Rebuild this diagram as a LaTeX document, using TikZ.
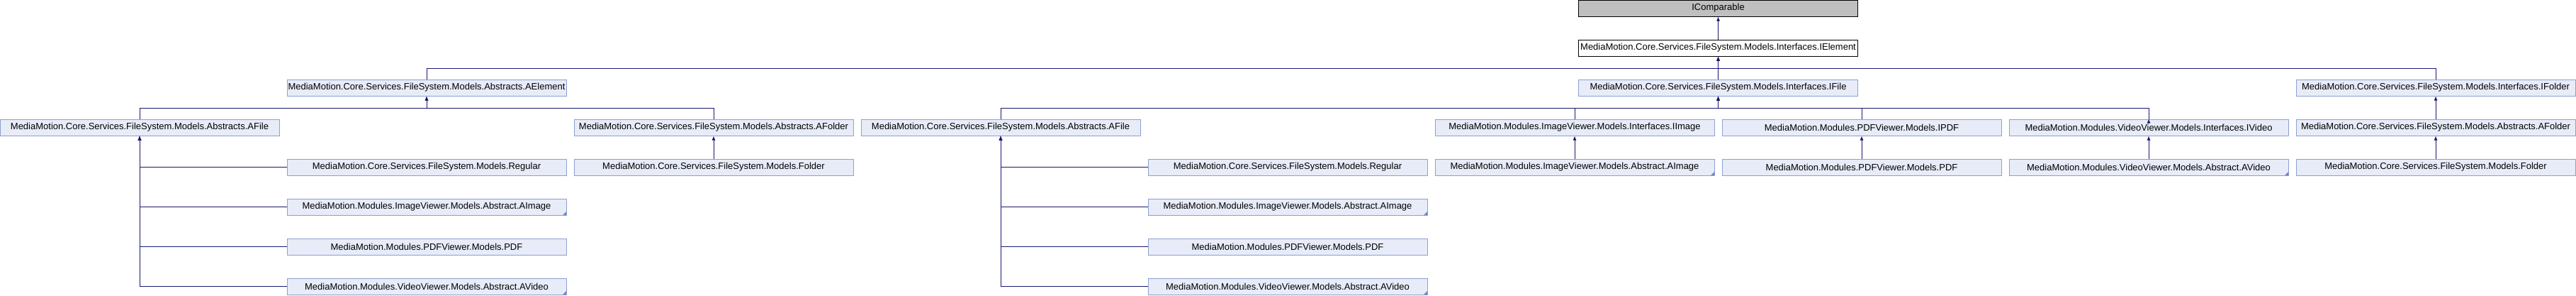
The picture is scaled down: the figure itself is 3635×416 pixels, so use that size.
\documentclass[tikz,border=0pt]{standalone}
\usepackage{fontspec}
\setmainfont{Liberation Sans}
\usetikzlibrary{arrows.meta}
\definecolor{edgeblue}{RGB}{25,25,112}
\definecolor{clsfill}{RGB}{232,236,248}
\definecolor{clsline}{RGB}{140,160,208}
\definecolor{morefill}{RGB}{110,134,196}
\begin{document}
\begin{tikzpicture}[x=1pt,y=-1pt,line width=1pt,
  cls/.style={draw=clsline,fill=clsfill,minimum width=394pt,minimum height=23pt,inner sep=0pt,
    font=\fontsize{13}{15}\selectfont},
  ext/.style={cls,draw=black,fill=black!25},
  cur/.style={cls,draw=black,fill=white},
  more/.style={path picture={\fill[morefill] (path picture bounding box.south east) -- ++(-5,0) -- ++(5,-5) -- cycle;}},
  inh/.style={draw=edgeblue,-{Latex[length=6pt,width=5pt]}}]
  \useasboundingbox (0,0) rectangle (3635,416);

  % top of the tree
  \node[ext] (IC) at (2424.5,11.5) {IComparable};
  \node[cur] (IE) at (2424.5,67.5) {MediaMotion.Core.Services.FileSystem.Models.Interfaces.IElement};

  \node[cls] (AE)  at (602,123.5)    {MediaMotion.Core.Services.FileSystem.Models.Abstracts.AElement};
  \node[cls] (IF)  at (2424.5,123.5) {MediaMotion.Core.Services.FileSystem.Models.Interfaces.IFile};
  \node[cls] (IFo) at (3437,123.5)   {MediaMotion.Core.Services.FileSystem.Models.Interfaces.IFolder};

  \node[cls] (AF1)  at (197,179.5)  {MediaMotion.Core.Services.FileSystem.Models.Abstracts.AFile};
  \node[cls] (AFo1) at (1007,179.5) {MediaMotion.Core.Services.FileSystem.Models.Abstracts.AFolder};
  \node[cls] (AF2)  at (1412,179.5) {MediaMotion.Core.Services.FileSystem.Models.Abstracts.AFile};
  \node[cls] (II)   at (2222,179.5) {MediaMotion.Modules.ImageViewer.Models.Interfaces.IImage};
  \node[cls] (IP)   at (2627,179.5) {MediaMotion.Modules.PDFViewer.Models.IPDF};
  \node[cls] (IV)   at (3032,179.5) {MediaMotion.Modules.VideoViewer.Models.Interfaces.IVideo};
  \node[cls] (AFo2) at (3437,179.5) {MediaMotion.Core.Services.FileSystem.Models.Abstracts.AFolder};

  % leaves
  \node[cls] (R1)  at (602,235.5)  {MediaMotion.Core.Services.FileSystem.Models.Regular};
  \node[cls] (Fo1) at (1007,235.5) {MediaMotion.Core.Services.FileSystem.Models.Folder};
  \node[cls] (R2)  at (1817,235.5) {MediaMotion.Core.Services.FileSystem.Models.Regular};
  \node[cls,more] (AI3) at (2222,235.5) {MediaMotion.Modules.ImageViewer.Models.Abstract.AImage};
  \node[cls] (P3)  at (2627,235.5) {MediaMotion.Modules.PDFViewer.Models.PDF};
  \node[cls,more] (AV3) at (3032,235.5) {MediaMotion.Modules.VideoViewer.Models.Abstract.AVideo};
  \node[cls] (Fo2) at (3437,235.5) {MediaMotion.Core.Services.FileSystem.Models.Folder};

  \node[cls,more] (AI1) at (602,291.5)  {MediaMotion.Modules.ImageViewer.Models.Abstract.AImage};
  \node[cls,more] (AI2) at (1817,291.5) {MediaMotion.Modules.ImageViewer.Models.Abstract.AImage};
  \node[cls] (P1) at (602,347.5)  {MediaMotion.Modules.PDFViewer.Models.PDF};
  \node[cls] (P2) at (1817,347.5) {MediaMotion.Modules.PDFViewer.Models.PDF};
  \node[cls,more] (AV1) at (602,403.5)  {MediaMotion.Modules.VideoViewer.Models.Abstract.AVideo};
  \node[cls,more] (AV2) at (1817,403.5) {MediaMotion.Modules.VideoViewer.Models.Abstract.AVideo};

  \coordinate (jIE) at (2424.5,96);
  \coordinate (jAE) at (602,152);
  \coordinate (jIF) at (2424.5,152);

  \path[inh] (IE) edge (IC)
    (AE.north) edge[to path={|- (jIE) -- (\tikztotarget)}] (IE.south)
    (IF.north) edge (IE.south)
    (IFo.north) edge[to path={|- (jIE) -- (\tikztotarget)}] (IE.south)
    (AF1.north) edge[to path={|- (jAE) -- (\tikztotarget)}] (AE.south)
    (AFo1.north) edge[to path={|- (jAE) -- (\tikztotarget)}] (AE.south)
    (AF2.north) edge[to path={|- (jIF) -- (\tikztotarget)}] (IF.south)
    (II.north) edge[to path={|- (jIF) -- (\tikztotarget)}] (IF.south)
    (IP.north) edge[to path={|- (jIF) -- (\tikztotarget)}] (IF.south)
    (IV.north) edge[to path={|- (jIF) -- (\tikztotarget)}] (IF.south)
    (AFo2) edge (IFo)
    (Fo1) edge (AFo1)
    (AI3) edge (II)
    (P3) edge (IP)
    (AV3) edge (IV)
    (Fo2) edge (AFo2);

  % children of the two AFile boxes
  \foreach \kid in {R1,AI1,P1,AV1} {\draw[inh] (\kid.west) -| (AF1.south);}
  \foreach \kid in {R2,AI2,P2,AV2} {\draw[inh] (\kid.west) -| (AF2.south);}
\end{tikzpicture}
\end{document}
